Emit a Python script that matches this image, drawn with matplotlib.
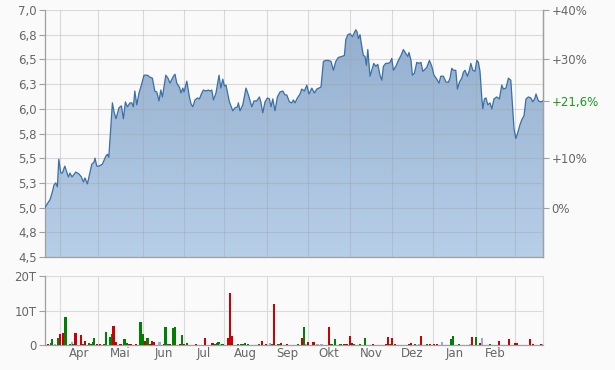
"""Price chart with volume panel (trading-day axis)."""

import numpy as np
import matplotlib
matplotlib.use("Agg")
import matplotlib.pyplot as plt

# ---- data --------------------------------------------------------------
# trading-day index (0 = first day shown) and closing price
price_day = [
    0, 1.2, 2.5, 3.7, 4.5, 5.4, 6.2, 6.9, 7.9, 8.7, 9.9, 10.9, 11.7, 12.5, 13.5,
    15.4, 17, 18.2, 19.2, 20, 21.2, 23.4, 24.5, 25, 25.9, 27, 28.7, 30.4, 31.2,
    31.9, 33.7, 34.5, 35.5, 37, 38.2, 39.2, 40.2, 41.2, 42.5, 43.4, 44.2, 44.9,
    45.9, 47, 48.2, 49.5, 51.2, 52.5, 53.7, 54.9, 55.9, 57, 57.9, 58.7, 60.4,
    61.5, 62.5, 64.2, 65, 65.9, 67.2, 68, 68.9, 69.5, 70.9, 72.2, 73, 73.9, 75,
    76.2, 77.2, 78.4, 79.2, 80.5, 81.7, 82.5, 83.4, 84.2, 85.5, 87, 87.9, 88.9,
    89.7, 90.5, 92.2, 93.9, 95, 96.2, 96.7, 97.5, 98.9, 100.5, 101.7, 103.4,
    104.5, 105.9, 107.2, 107.9, 108.9, 110, 111.2, 112.2, 113, 113.9, 115,
    116.2, 117.5, 118.9, 120, 120.9, 122.2, 123.4, 124.2, 125, 126.2, 127.5,
    128.4, 129.7, 130.9, 132, 133.4, 134.7, 135.9, 137, 138, 139.2, 140.4,
    141.7, 143, 144.2, 145.4, 146.7, 148.4, 149.7, 150.4, 151.4, 152.5, 153.7,
    154.7, 155.4, 156, 156.7, 157.5, 158.4, 159.2, 160, 160.7, 161.4, 162.5,
    163.7, 164.4, 165.4, 166.4, 167.5, 168.4, 169.2, 170.4, 171.7, 172.5,
    173.4, 174.2, 175.4, 176.7, 178, 179.2, 180.4, 181.4, 182, 183, 183.7,
    184.7, 185.9, 187, 188, 188.9, 189.5, 190.9, 192.2, 193.4, 194.5, 195.9,
    197, 197.9, 199.2, 200.5, 201.7, 202.5, 203.4, 204.2, 205.4, 206.2, 207.2,
    208.4, 209.2, 210, 211.2, 212.2, 212.9, 213.9, 215, 215.9, 216.7, 217.5,
    218.4, 218.9, 219.7, 220.5, 221.4, 222.5, 223.4, 224.5, 225.9, 227.2,
    228.4, 229.2, 230.5, 231.7, 232.9, 233.9, 234.5, 235.4, 236.4, 237.5,
    238.4, 239.5, 240.5, 241.7, 242.9, 243.9, 245, 245.5, 246.7, 247.9, 249,
]
price = [
    5.00, 5.04, 5.08, 5.16, 5.23, 5.25, 5.21, 5.49, 5.35, 5.35, 5.42, 5.36, 5.31,
    5.35, 5.31, 5.36, 5.34, 5.31, 5.26, 5.30, 5.24, 5.44, 5.46, 5.50, 5.42, 5.42,
    5.44, 5.52, 5.54, 5.51, 6.06, 5.97, 5.90, 6.01, 6.03, 5.90, 6.07, 6.02, 6.06,
    6.06, 6.02, 6.18, 6.04, 6.16, 6.24, 6.34, 6.34, 6.32, 6.31, 6.18, 6.17, 6.08,
    6.19, 6.12, 6.34, 6.31, 6.26, 6.33, 6.35, 6.26, 6.22, 6.16, 6.21, 6.17, 6.28,
    6.12, 6.05, 6.02, 6.09, 6.11, 6.10, 6.16, 6.19, 6.18, 6.19, 6.18, 6.19, 6.09,
    6.16, 6.34, 6.21, 6.30, 6.23, 6.24, 6.07, 5.98, 6.01, 6.02, 6.06, 5.98, 6.04,
    6.21, 6.14, 6.02, 6.08, 6.08, 6.12, 6.07, 5.96, 6.07, 6.11, 6.10, 6.02, 6.10,
    5.98, 6.12, 6.17, 6.18, 6.14, 6.14, 6.07, 6.06, 6.09, 6.06, 6.11, 6.15, 6.20,
    6.18, 6.24, 6.15, 6.21, 6.16, 6.20, 6.21, 6.22, 6.48, 6.49, 6.49, 6.48, 6.39,
    6.48, 6.52, 6.53, 6.54, 6.70, 6.75, 6.76, 6.73, 6.77, 6.80, 6.78, 6.71, 6.75,
    6.63, 6.54, 6.53, 6.44, 6.60, 6.33, 6.41, 6.46, 6.43, 6.45, 6.34, 6.29, 6.43,
    6.46, 6.46, 6.47, 6.51, 6.39, 6.43, 6.49, 6.54, 6.60, 6.56, 6.53, 6.57, 6.49,
    6.34, 6.36, 6.47, 6.46, 6.47, 6.38, 6.39, 6.42, 6.49, 6.43, 6.34, 6.30, 6.26,
    6.33, 6.33, 6.27, 6.27, 6.31, 6.41, 6.39, 6.39, 6.20, 6.27, 6.31, 6.37, 6.39,
    6.33, 6.39, 6.46, 6.39, 6.38, 6.49, 6.47, 6.38, 6.11, 6.00, 6.10, 6.11, 6.04,
    6.06, 6.00, 6.10, 6.12, 6.10, 6.24, 6.20, 6.21, 6.31, 6.29, 5.99, 5.80, 5.70,
    5.76, 5.84, 5.89, 5.93, 6.10, 6.12, 6.11, 6.07, 6.11, 6.15, 6.08, 6.07, 6.08,
]
base_price = 5.00

# volume in thousands (T); direction: r = down, g = up, b = unchanged
vol_day = [
    1.5, 2.8, 3.7, 4.8, 6.7, 7.5, 9.2, 10.2, 12.3, 13.3, 14, 15.2, 18, 18.8,
    19.8, 21.8, 22.8, 23.8, 24.7, 25.8, 27.5, 29.5, 30.5, 32.5, 33.5, 34.3,
    35.3, 37.8, 39.7, 40.8, 42, 43, 45.5, 47.7, 48.7, 49.8, 51.2, 52.5, 53.5,
    54.5, 57.2, 59.5, 60.2, 61.5, 62.5, 63.8, 65, 67.7, 68.7, 69.7, 71, 75.5,
    80.2, 83.8, 85, 86, 86.8, 87.8, 88.8, 91.5, 92.5, 93.5, 96.5, 98.2, 99.2,
    100.2, 101.5, 107, 108.7, 110.7, 112.3, 113.3, 114.3, 116.5, 117.5, 118.2,
    121, 126.7, 128.5, 129.7, 130.7, 131.7, 134.3, 136.3, 138.3, 142.2, 143.3,
    145, 147.8, 149.7, 150.8, 152.7, 153.7, 154.5, 157.5, 160.2, 164.2, 170.7,
    171.7, 172.7, 173.7, 175, 182.3, 183.2, 185, 187, 188, 191, 192.7, 194.7,
    196, 198.5, 203, 204, 207, 212.8, 213.7, 215.7, 217.5, 218.5, 222.5, 227,
    232, 235, 235.8, 242.5, 243.8, 247.8, 248.8,
]
vol = [
    0.3, 0.7, 1.8, 0.3, 2.1, 3.3, 3.6, 8.0, 0.3, 0.9, 0.3, 3.6, 3.0, 0.4,
    1.3, 0.7, 0.4, 0.9, 2.1, 0.3, 0.3, 0.3, 3.9, 2.4, 3.3, 5.6,
    1.0, 0.3, 1.6, 0.7, 0.4, 0.4, 0.3, 6.8, 3.3, 1.3, 2.1, 0.3, 1.3,
    1.0, 1.0, 0.3, 5.3, 0.3, 0.3, 4.8, 5.3, 0.4, 3.0, 0.3, 0.7, 0.4,
    2.1, 0.7, 0.4, 0.7, 1.0, 0.4, 0.4, 2.1, 15.2, 2.7, 0.3, 0.3, 0.4,
    0.7, 0.3, 0.3, 1.3, 0.3, 0.7, 0.3, 12.0, 0.3, 0.3, 0.6,
    0.3, 0.3, 2.1, 5.3, 0.3, 1.0, 1.0, 0.4, 0.4, 5.3, 0.4,
    1.6, 0.4, 0.4, 0.4, 2.7, 0.7, 0.4, 0.4, 2.1, 0.4, 0.4,
    2.4, 0.4, 2.1, 0.4, 0.4, 0.7, 0.4, 0.4, 2.7, 0.4, 0.4, 0.4,
    0.4, 1.0, 1.6, 2.7, 0.4, 0.4, 2.4, 2.4, 0.7, 2.1, 0.4, 1.3,
    1.6, 0.7, 0.7, 1.8, 0.4, 0.3, 0.4,
]
vol_dir = list(
    "rggbgrrggbgrrg"
    "rggggrrggggr"
    "rrggrrrggrgrr"
    "rbrggrggrgrgr"
    "rrgggbgrrrggg"
    "gggrrbgrggr"
    "rgrgbrrbbrg"
    "ggrrrrgggrr"
    "rgrrrrgbrgrr"
    "rbgggbrgrbgr"
    "rrrrrrb"
)

months = ["Apr", "Mai", "Jun", "Jul", "Aug", "Sep", "Okt", "Nov", "Dez", "Jan", "Feb"]
# trading-day index at which each month starts (Apr ... Mar)
month_start = [7.5, 26.5, 49, 69.5, 89.5, 111, 131.5, 152.5, 173.5, 194, 215.5, 235]

price_ticks = [4.5, 4.75, 5.0, 5.25, 5.5, 5.75, 6.0, 6.25, 6.5, 6.75, 7.0]
price_labels = ["4,5", "4,8", "5,0", "5,3", "5,5", "5,8", "6,0", "6,3", "6,5", "6,8", "7,0"]
pct_ticks = [0, 10, 30, 40]

# ---- styling -----------------------------------------------------------
BG = "#fafafa"
GRID = "#dadada"
SPINE = "#a0a0a0"
TXT = "#666666"
COL = {"r": "#cc0000", "g": "#008000", "b": "#8fb0d6"}

plt.rcParams["font.family"] = ["DejaVu Sans"]
plt.rcParams["font.size"] = 8

fig = plt.figure(figsize=(6.15, 3.70), dpi=100, facecolor=BG)
ax = fig.add_axes([45 / 615, 1 - 257 / 370, 498 / 615, 247 / 370], facecolor=BG)
axv = fig.add_axes([45 / 615, 1 - 345 / 370, 498 / 615, 69 / 370], facecolor=BG)

x = np.array(price_day)
y = np.array(price)
x_max = 249

# gradient area under the price line
poly = ax.fill_between(x, y, 4.5, color="none", lw=0)
grad = np.linspace(0, 1, 256).reshape(-1, 1)
top_c = np.array([0.58, 0.69, 0.81])
bot_c = np.array([0.72, 0.81, 0.91])
img = top_c + (bot_c - top_c) * grad
im = ax.imshow(img.reshape(256, 1, 3), extent=[0, x_max, 4.5, y.max()],
               aspect="auto", origin="upper", zorder=1)
im.set_clip_path(poly.get_paths()[0], transform=ax.transData)
ax.plot(x, y, color="#3a6fa8", lw=0.9, zorder=3)

ax.set_xlim(0, x_max)
ax.set_ylim(4.5, 7.0)
ax.set_yticks(price_ticks)
ax.set_yticklabels(price_labels)
ax.set_xticks(month_start)
ax.set_xticklabels([])
ax.tick_params(axis="x", length=0)
ax.tick_params(axis="y", colors=SPINE, labelcolor=TXT, length=4, width=0.8, pad=2,
               labelsize=8.5)
ax.grid(True, color="#a0a0a0", alpha=0.35, lw=0.8, zorder=2)
ax.set_axisbelow(False)
ax.spines["top"].set_visible(False)
for s in ["left", "right", "bottom"]:
    ax.spines[s].set_color(SPINE)
    ax.spines[s].set_linewidth(0.9)

# right axis: change versus base price
axr = ax.twinx()
axr.set_ylim(ax.get_ylim())
last_pct = (price[-1] / base_price - 1) * 100
r_ticks = [base_price * (1 + p / 100) for p in pct_ticks] + [price[-1]]
r_labels = [("+" if p > 0 else "") + f"{p}%" for p in pct_ticks]
r_labels.append(("+" if last_pct > 0 else "") + f"{last_pct:.1f}%".replace(".", ","))
axr.set_yticks(r_ticks)
axr.set_yticklabels(r_labels)
axr.tick_params(axis="y", colors=SPINE, labelcolor=TXT, length=4, width=0.8, pad=2,
                labelsize=8.5)
axr.get_yticklabels()[-1].set_color("#1a9a1a")
for s in ["top", "left", "bottom"]:
    axr.spines[s].set_visible(False)
axr.spines["right"].set_color(SPINE)
axr.spines["right"].set_linewidth(0.9)

# volume panel
axv.bar(vol_day, vol, width=1.1, color=[COL[c] for c in vol_dir], lw=0,
        antialiased=False, zorder=3)
axv.set_xlim(0, x_max)
axv.set_ylim(0, 20)
axv.set_yticks([0, 10, 20])
axv.set_yticklabels(["0", "10T", "20T"])
axv.set_xticks(month_start)
axv.set_xticklabels([])
mid = [(a + b) / 2 for a, b in zip(month_start[:-1], month_start[1:])]
axv.set_xticks(mid, minor=True)
axv.set_xticklabels(months, minor=True)
axv.tick_params(axis="x", which="both", length=0, labelcolor=TXT, pad=1.5, labelsize=8.5)
axv.tick_params(axis="y", colors=SPINE, labelcolor=TXT, length=4, width=0.8, pad=2,
                labelsize=8.5)
axv.grid(True, which="major", color=GRID, lw=0.8, zorder=0)
axv.spines["top"].set_visible(False)
axv.spines["right"].set_color(GRID)
for s in ["left", "bottom"]:
    axv.spines[s].set_color(SPINE)
    axv.spines[s].set_linewidth(0.9)

fig.savefig("out.png", dpi=100, facecolor=BG)
